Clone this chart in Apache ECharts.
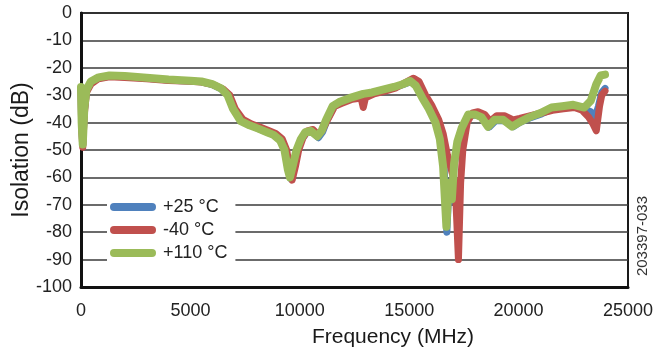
<!DOCTYPE html>
<html>
<head>
<meta charset="utf-8">
<script src="https://cdn.jsdelivr.net/npm/echarts@6/dist/echarts.min.js"></script>
<style>
html,body{margin:0;padding:0;background:#fff;}
#chart{width:657px;height:353px;}
</style>
</head>
<body>
<div id="chart"></div>
<script>
// ---- data ----
const seriesNames = ['+25 °C', '-40 °C', '+110 °C'];
const xTicks = [0, 5000, 10000, 15000, 20000, 25000];
const yTicks = [0, -10, -20, -30, -40, -50, -60, -70, -80, -90, -100];

const freq25 = [0,30,80,150,250,450,800,1300,2000,3000,4000,5000,5500,6000,6400,6750,7000,7350,7750,8150,8550,8850,9150,9350,9500,9600,9750,9900,10100,10300,10550,10850,11050,11250,11550,11850,12350,12900,13300,13800,14300,14700,15100,15350,15650,15950,16250,16450,16600,16720,16820,16950,17050,17250,17450,17750,18050,18350,18650,18950,19350,19750,20050,20550,21050,21550,22050,22550,23000,23300,23500,23650,23800,23950];
const iso25 = [-27.5,-41,-48,-36,-28.5,-25.5,-23.8,-23,-23.3,-23.8,-24.5,-24.8,-25.1,-26.1,-27.7,-30.2,-35.2,-39.5,-41,-42.3,-43.6,-44.6,-46.7,-50.5,-57.5,-60.5,-55.5,-50,-46,-43.8,-43.3,-45.5,-43.3,-39,-34.2,-32.8,-31.3,-29.8,-29.3,-28.3,-27.3,-26.2,-25,-26.8,-31.2,-35.2,-40.3,-46.5,-57,-80,-63,-68.5,-55.5,-47,-42,-37.3,-37.2,-38.3,-41.7,-39.3,-39.3,-41.5,-40,-38.2,-36.8,-35,-34.5,-34,-35,-36,-38,-34,-29,-27.5];

const freqM40 = [0,30,80,150,250,450,800,1300,2000,3000,4000,5000,5500,6000,6500,6800,7050,7400,7800,8200,8600,8900,9200,9400,9550,9650,9800,9950,10150,10350,10600,10850,11050,11300,11600,11900,12400,12800,12900,13000,13400,13900,14400,14800,15200,15450,15750,16050,16350,16550,16750,16950,17100,17250,17350,17450,17650,17900,18150,18450,18700,19000,19350,19750,20050,20550,21050,21550,22050,22550,22900,23200,23400,23550,23700,23800,23950];
const isoM40 = [-28,-42,-49,-37,-29,-26,-24,-23.3,-23.5,-24,-24.6,-24.9,-25.2,-26,-27.8,-30,-35,-38.8,-40.5,-41.7,-43,-44,-46,-50,-57,-61,-56,-50,-45.5,-43,-42.5,-44.5,-42.5,-38.5,-34,-33,-31.5,-31,-34.5,-31,-29.5,-28.5,-27.3,-25.5,-23.8,-25,-30,-34,-39,-44,-52,-58,-62,-90,-62,-50,-40,-36.5,-36,-37,-39.5,-37.5,-37.5,-39,-38.5,-37.5,-36.5,-35.5,-35,-34.5,-35.5,-38,-40.5,-43,-34,-30,-28.5];

const freq110 = [0,30,80,150,250,450,800,1300,2000,3000,4000,5000,5500,6000,6400,6700,6950,7300,7700,8100,8500,8800,9100,9300,9450,9550,9700,9850,10050,10250,10500,10800,11000,11200,11500,11800,12300,12900,13300,13800,14300,14700,15050,15300,15600,15900,16200,16400,16550,16700,16800,16950,17050,17200,17400,17700,18000,18300,18600,18900,19300,19700,20000,20500,21000,21500,22000,22500,23000,23300,23550,23750,23950];
const iso110 = [-27,-40,-48,-35,-28,-25,-23.5,-22.8,-23,-23.6,-24.3,-24.7,-25,-26,-27.5,-30,-35,-39.5,-41,-42.2,-43.5,-44.5,-46.5,-50,-57,-60,-55,-50,-46,-43.5,-43,-45,-43,-39,-34,-32.5,-31,-29.5,-29,-28,-27,-26,-24.8,-26.5,-31,-35,-40,-46,-56,-78,-62,-68,-55,-47,-42,-37,-37,-38,-41.5,-39,-39,-41.5,-40,-38,-36.5,-34.5,-34,-33.5,-34.5,-32,-26,-22.8,-22.5];

function pairs(xs, ys){ return xs.map((x,i)=>[x, ys[i]]); }

const FONT = "'Liberation Sans', Arial, sans-serif";
const colors = ['#4f81bd', '#c0504d', '#9bbb59'];
const iconPath = 'path://M4,0 L42,0 A4,4 0 0 1 42,8 L4,8 A4,4 0 0 1 4,0 Z';

const chart = echarts.init(document.getElementById('chart'), null, {renderer:'canvas'});
chart.setOption({
  animation: false,
  backgroundColor: '#ffffff',
  color: colors,
  grid: {left: 81, right: 29, top: 13, bottom: 66, containLabel: false, outerBoundsMode: 'none',
         show: true, borderColor: '#1a1a1a', borderWidth: 2, backgroundColor: 'transparent'},
  xAxis: {
    type: 'value', min: xTicks[0], max: xTicks[xTicks.length-1], interval: 5000,
    name: 'Frequency (MHz)', nameLocation: 'middle', nameGap: 40, nameMoveOverlap: false,
    nameTextStyle: {fontFamily: FONT, fontSize: 21, color: '#1a1a1a', padding: [0,0,0,77]},
    axisLine: {show: true, onZero: false, lineStyle: {color: '#111', width: 3}},
    axisTick: {show: false},
    axisLabel: {fontFamily: FONT, fontSize: 18, color: '#222', margin: 15, formatter: v => String(v)},
    splitLine: {show: false}
  },
  yAxis: {
    type: 'value', min: yTicks[yTicks.length-1], max: yTicks[0], interval: 10,
    name: 'Isolation (dB)', nameLocation: 'middle', nameGap: 48, nameMoveOverlap: false,
    nameTextStyle: {fontFamily: FONT, fontSize: 23, color: '#1a1a1a'},
    axisLine: {show: true, onZero: false, lineStyle: {color: '#111', width: 3}},
    axisTick: {show: false},
    axisLabel: {fontFamily: FONT, fontSize: 18, color: '#222', margin: 9, formatter: v => String(v)},
    splitLine: {show: true, lineStyle: {color: '#3a3a3a', width: 1.6}}
  },
  legend: {
    orient: 'vertical', left: 107, top: 192, z: 10,
    backgroundColor: '#ffffff', padding: [5, 8, 5, 3], itemGap: 3,
    itemWidth: 46, itemHeight: 8, icon: iconPath,
    textStyle: {fontFamily: FONT, fontSize: 18, color: '#222', lineHeight: 20, padding: [0,0,0,2]},
    data: seriesNames
  },
  graphic: [{
    type: 'text', left: 635, top: 196, rotation: Math.PI/2,
    style: {text: '203397-033', fontFamily: FONT, fontSize: 15, fill: '#333'}
  }],
  series: [
    {name: seriesNames[0], type: 'line', data: pairs(freq25, iso25), showSymbol: false, symbol: 'none', z: 2,
     itemStyle: {color: colors[0]}, lineStyle: {color: colors[0], width: 7, cap: 'round', join: 'round'}},
    {name: seriesNames[1], type: 'line', data: pairs(freqM40, isoM40), showSymbol: false, symbol: 'none', z: 3,
     itemStyle: {color: colors[1]}, lineStyle: {color: colors[1], width: 7, cap: 'round', join: 'round'}},
    {name: seriesNames[2], type: 'line', data: pairs(freq110, iso110), showSymbol: false, symbol: 'none', z: 4,
     itemStyle: {color: colors[2]}, lineStyle: {color: colors[2], width: 8, cap: 'round', join: 'round'}}
  ]
});
</script>
</body>
</html>
